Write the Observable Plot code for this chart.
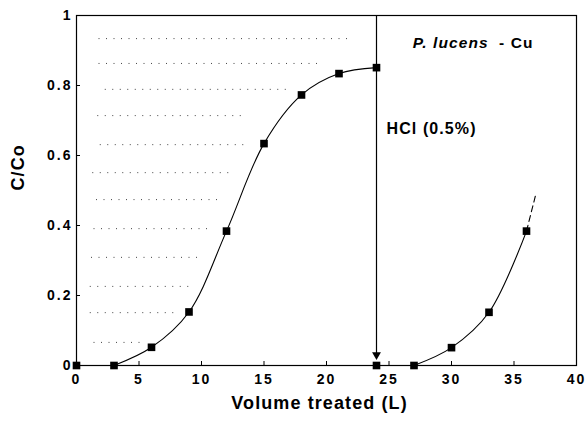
<!DOCTYPE html>
<html>
<head>
<meta charset="utf-8">
<script src="https://cdn.jsdelivr.net/npm/d3@7"></script>
<script src="https://cdn.jsdelivr.net/npm/@observablehq/plot@0.6"></script>
<style>
  html, body { margin: 0; padding: 0; background: #fff; }
  svg { font-family: "Liberation Sans", Arial, sans-serif; font-weight: bold; }
  svg g[aria-label="text"] text { letter-spacing: 1.1px; }
  svg g[aria-label$="tick label"] text { letter-spacing: 2px; }
</style>
</head>
<body>
<div id="chart"></div>
<script>
// Loading run (before HCl)
const loadVolume = [0, 3, 6, 9, 12, 15, 18, 21, 24];
const loadC = [0, 0, 0.052, 0.153, 0.384, 0.634, 0.773, 0.834, 0.851];
// Second loading run (after HCl regeneration)
const reloadVolume = [24, 27, 30, 33, 36];
const reloadC = [0, 0, 0.051, 0.152, 0.384];
// Extrapolated (dashed) end of second curve
const extVolume = [36, 36.75];
const extC = [0.384, 0.49];
// Dotted horizontal hatching in the left part of the plot
const hatchY = [0.934, 0.863, 0.789, 0.714, 0.631, 0.551, 0.474, 0.391, 0.309, 0.226, 0.151, 0.066];
const hatchX1 = [1.8, 1.8, 2.3, 1.7, 1.9, 1.3, 1.6, 1.4, 1.2, 1.1, 1.1, 1.4];
const hatchX2 = [21.8, 19.3, 16.9, 13.7, 13.9, 12.5, 11.8, 10.7, 9.8, 9.2, 8.3, 5.1];
// Arrow marking HCl regeneration
const arrowX = [24];
const arrowTop = [1];
const arrowTip = [0.022];
// Tick values
const xTicks = [0, 5, 10, 15, 20, 25, 30, 35, 40];
const yTicks = [0, 0.2, 0.4, 0.6, 0.8, 1];
// Texts
const xLabel = "Volume treated (L)";
const yLabel = "C/Co";
const speciesText = "P. lucens";
const metalText = "- Cu";
const hclText = "HCl (0.5%)";

const load = loadVolume.map((v, i) => ({v, c: loadC[i]}));
const reload = reloadVolume.map((v, i) => ({v, c: reloadC[i]}));
const loadCurve = load.filter(d => d.v >= 3);
const reloadCurve = reload.filter(d => d.v >= 27);
const ext = extVolume.map((v, i) => ({v, c: extC[i]}));
const hatch = hatchY.map((y, i) => ({y, x1: hatchX1[i], x2: hatchX2[i]}));
const arrow = arrowX.map((x, i) => ({x, y1: arrowTop[i], y2: arrowTip[i]}));

const chart = Plot.plot({
  width: 587,
  height: 421,
  marginLeft: 76,
  marginRight: 11,
  marginTop: 15,
  marginBottom: 56,
  style: {fontSize: "14px", fontFamily: "'Liberation Sans', Arial, sans-serif", fontWeight: "bold", color: "#000", background: "#fff"},
  x: {domain: [0, 40]},
  y: {domain: [0, 1]},
  marks: [
    Plot.ruleY(hatch, {y: "y", x1: "x1", x2: "x2", stroke: "#444", strokeWidth: 1, strokeDasharray: "1,6.5"}),
    Plot.frame({stroke: "#000", strokeWidth: 1.2}),
    Plot.axisX({ticks: xTicks, tickSize: -4, tickPadding: 13, tickFormat: d => String(d), label: null, fontSize: 14, fontWeight: "bold"}),
    Plot.axisY({ticks: yTicks, tickSize: -4, tickPadding: 8, tickFormat: d => String(d), label: null, fontSize: 14, fontWeight: "bold"}),
    Plot.ruleX(arrow, {x: "x", y1: "y1", y2: "y2", stroke: "#000", strokeWidth: 1.2}),
    Plot.dot(arrow, {x: "x", y: "y2", symbol: "triangle", r: 3.3, fill: "#000", rotate: 180, dy: -3}),
    Plot.line(loadCurve, {x: "v", y: "c", curve: "catmull-rom", stroke: "#000", strokeWidth: 1.1}),
    Plot.line(reloadCurve, {x: "v", y: "c", curve: "catmull-rom", stroke: "#000", strokeWidth: 1.1}),
    Plot.line(ext, {x: "v", y: "c", stroke: "#000", strokeWidth: 1.1, strokeDasharray: "6,4"}),
    Plot.dot(load, {x: "v", y: "c", symbol: "square", r: 4.3, fill: "#000", stroke: "none"}),
    Plot.dot(reload, {x: "v", y: "c", symbol: "square", r: 4.3, fill: "#000", stroke: "none"}),
    Plot.text([speciesText], {x: 26.9, y: 0.922, text: d => d, textAnchor: "start", fontSize: 15.5, fontStyle: "italic", fontWeight: "bold"}),
    Plot.text([metalText], {x: 33.8, y: 0.922, text: d => d, textAnchor: "start", fontSize: 15.5, fontWeight: "bold"}),
    Plot.text([hclText], {x: 24.8, y: 0.675, text: d => d, textAnchor: "start", fontSize: 16, fontWeight: "bold"}),
    Plot.text([xLabel], {frameAnchor: "bottom", dy: 43, dx: -7, text: d => d, fontSize: 18, fontWeight: "bold"}),
    Plot.text([yLabel], {frameAnchor: "left", dx: -58, rotate: -90, text: d => d, fontSize: 18, fontWeight: "bold"})
  ]
});
document.getElementById("chart").appendChild(chart);
</script>
</body>
</html>
